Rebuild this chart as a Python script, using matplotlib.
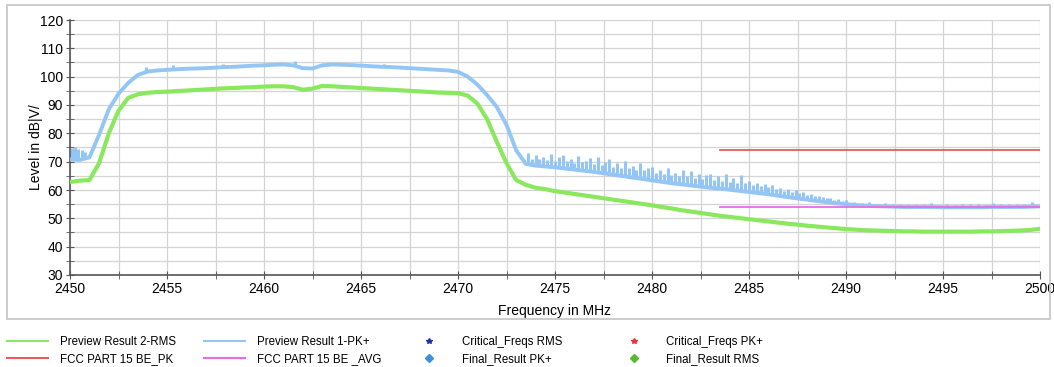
import numpy as np
import matplotlib.pyplot as plt
from matplotlib.lines import Line2D
from matplotlib.patches import Rectangle
from matplotlib.ticker import MultipleLocator

plt.rcParams['font.family'] = ['Liberation Sans', 'DejaVu Sans']

# Preview Result 1-PK+ (dBuV), trace level every 0.5 MHz from 2450 to 2500 MHz
pk_level = [
    70.8, 70.6, 71.5, 79.5, 88.5, 94.0, 97.8, 100.6, 101.8, 102.2,    # 2450-2454.5
    102.4, 102.6, 102.8, 102.9, 103.0, 103.2, 103.4, 103.5, 103.7, 103.9,  # 2455-2459.5
    104.0, 104.2, 104.3, 104.0, 103.0, 102.9, 104.0, 104.3, 104.2, 104.1,  # 2460-2464.5
    103.9, 103.7, 103.5, 103.4, 103.2, 103.0, 102.8, 102.6, 102.4, 102.2,  # 2465-2469.5
    101.7, 100.0, 97.2, 93.5, 89.3, 83.0, 74.0, 69.2, 68.6, 68.3,     # 2470-2474.5
    68.0, 67.6, 67.2, 66.8, 66.4, 65.9, 65.4, 64.9, 64.4, 63.9,       # 2475-2479.5
    63.4, 62.9, 62.4, 62.0, 61.6, 61.2, 60.8, 60.5, 60.1, 59.7,       # 2480-2484.5
    59.3, 58.9, 58.5, 58.0, 57.5, 57.0, 56.6, 56.1, 55.7, 55.3,       # 2485-2489.5
    55.0, 54.7, 54.5, 54.3, 54.2, 54.1, 54.0, 54.0, 54.0, 54.0,       # 2490-2494.5
    53.9, 53.9, 53.9, 53.9, 53.9, 54.0, 54.0, 54.0, 54.0, 54.1,       # 2495-2499.5
    54.2,                                                             # 2500
]

# isolated peaks on the PK+ trace below 2473 MHz
spike_freq = [2450.1, 2450.25, 2450.4, 2450.6, 2450.75, 2453.9, 2455.3,
              2457.9, 2461.6, 2466.2]
spike_top = [74.8, 75.0, 74.5, 74.2, 73.5, 103.4, 104.0,
             104.4, 105.4, 104.6]

# peak noise above the PK+ trace, 2473.6-2490.0 MHz every 0.2 MHz
noise_top = [
    73.0, 71.0,                          # 2473.6
    72.5, 70.8, 71.8, 70.5, 72.8,        # 2474
    70.4, 71.5, 72.2, 70.1, 71.0,        # 2475
    69.6, 72.0, 69.8, 70.4, 71.2,        # 2476
    69.0, 71.5, 68.7, 69.8, 70.9,        # 2477
    68.0, 69.5, 67.9, 70.2, 67.6,        # 2478
    68.6, 66.9, 69.4, 67.0, 67.9,        # 2479
    68.2, 66.0, 67.0, 65.8, 67.8,        # 2480
    65.4, 66.1, 64.9, 67.0, 65.0,        # 2481
    66.8, 64.2, 65.6, 63.9, 65.2,        # 2482
    65.8, 63.4, 64.9, 63.3, 65.6,        # 2483
    62.8, 64.4, 62.5, 65.3, 62.6,        # 2484
    63.0, 61.8, 62.5, 61.5, 62.2,        # 2485
    60.9, 61.8, 60.4, 60.6, 59.8,        # 2486
    60.2, 59.4, 59.9, 58.9, 59.3,        # 2487
    58.2, 58.7, 57.8, 58.0, 57.4,        # 2488
    57.2, 57.0, 56.6, 56.9, 56.2,        # 2489
    56.3,                                # 2490
]

# peak noise above the PK+ trace, 2490.4-2499.6 MHz every 0.4 MHz
tail_top = [
    55.8, 55.4, 55.6, 55.1, 55.3, 55.0, 55.2, 54.9, 55.1, 54.9, 55.3, 54.8,
    55.0, 54.8, 55.1, 54.9, 55.0, 54.8, 55.3, 54.9, 55.0, 54.9, 55.1, 55.6,
]

# Preview Result 2-RMS (dBuV), every 0.5 MHz
rms_level = [
    62.8, 63.3, 63.5, 69.5, 80.0, 88.0, 92.5, 93.8, 94.3, 94.6,   # 2450-2454.5
    94.7, 94.9, 95.1, 95.3, 95.5, 95.7, 95.9, 96.0, 96.2, 96.3,   # 2455-2459.5
    96.5, 96.6, 96.6, 96.3, 95.4, 95.8, 96.7, 96.6, 96.4, 96.2,   # 2460-2464.5
    96.0, 95.8, 95.6, 95.4, 95.2, 95.0, 94.8, 94.6, 94.4, 94.3,   # 2465-2469.5
    94.2, 93.3, 90.5, 85.0, 77.0, 69.5, 63.5, 61.8, 60.8, 60.3,   # 2470-2474.5
    59.6, 59.1, 58.6, 58.1, 57.6, 57.1, 56.6, 56.1, 55.6, 55.1,   # 2475-2479.5
    54.6, 54.0, 53.5, 52.9, 52.4, 51.9, 51.4, 50.9, 50.5, 50.1,   # 2480-2484.5
    49.7, 49.3, 48.9, 48.5, 48.1, 47.8, 47.4, 47.1, 46.8, 46.5,   # 2485-2489.5
    46.2, 46.0, 45.8, 45.7, 45.6, 45.5, 45.4, 45.4, 45.3, 45.3,   # 2490-2494.5
    45.3, 45.3, 45.3, 45.3, 45.4, 45.4, 45.5, 45.6, 45.7, 45.9,   # 2495-2499.5
    46.3,                                                         # 2500
]

# FCC Part 15 restricted band limits
limit_freq = [2483.5, 2500]
limit_pk = [74, 74]
limit_avg = [54, 54]

start_mhz, stop_mhz, step_mhz = 2450, 2500, 0.5
pk_freq = np.linspace(start_mhz, stop_mhz, len(pk_level))
rms_freq = np.linspace(start_mhz, stop_mhz, len(rms_level))
noise_freq = np.linspace(2473.6, 2490.0, len(noise_top))
tail_freq = np.linspace(2490.4, 2499.6, len(tail_top))

peak_freq = list(spike_freq) + list(noise_freq) + list(tail_freq)
peak_top = spike_top + noise_top + tail_top
# every peak rises from the trace sample nearest to it
peak_base = [pk_level[int(round((f - start_mhz) / step_mhz))] for f in peak_freq]

c_pk = '#94c6f5'
c_rms = '#8ae85e'
c_lim_pk = '#ea5a5a'
c_lim_avg = '#e46ee4'

fig = plt.figure(figsize=(10.54, 3.67), dpi=100)
ax = fig.add_axes([70 / 1054, 92 / 367, 970 / 1054, 255 / 367])

ax.plot(pk_freq, pk_level, color=c_pk, lw=2.8, zorder=3,
        solid_joinstyle='round')
ax.vlines(peak_freq, peak_base, peak_top, color=c_pk, lw=2.2, zorder=3)
ax.plot(rms_freq, rms_level, color=c_rms, lw=3.0, zorder=3)
ax.plot(limit_freq, limit_pk, color=c_lim_pk, lw=1.3, zorder=4)
ax.plot(limit_freq, limit_avg, color=c_lim_avg, lw=1.3, zorder=4)

ax.set_xlim(start_mhz, stop_mhz)
ax.set_ylim(30, 120)
ax.xaxis.set_major_locator(MultipleLocator(5))
ax.xaxis.set_minor_locator(MultipleLocator(2.5))
ax.yaxis.set_major_locator(MultipleLocator(10))
ax.yaxis.set_minor_locator(MultipleLocator(5))
ax.grid(True, which='both', color='#d4d4d4', lw=0.9, zorder=0)
ax.set_axisbelow(True)

for side in ['top', 'right']:
    ax.spines[side].set_visible(False)
for side in ['left', 'bottom']:
    ax.spines[side].set_color('#555555')
    ax.spines[side].set_linewidth(1.2)
ax.tick_params(which='major', direction='inout', length=6, color='#555555',
               labelsize=10, pad=2)
ax.tick_params(which='minor', direction='inout', length=6, color='#555555')

ax.set_xlabel('Frequency in MHz', fontsize=10, labelpad=6)
ax.set_ylabel('Level in dB|V/', fontsize=10, labelpad=-2)

# grey frame round the graph area
fig.patches.append(Rectangle((7 / 1054, 48 / 367), 1043 / 1054, 314 / 367,
                             transform=fig.transFigure, fill=False,
                             edgecolor='#c4c4c4', lw=1.2))

handles = [
    Line2D([], [], color=c_rms, lw=1.5),
    Line2D([], [], color=c_lim_pk, lw=1.5),
    Line2D([], [], color=c_pk, lw=1.5),
    Line2D([], [], color=c_lim_avg, lw=1.5),
    Line2D([], [], ls='none', marker='*', ms=4, color='#2233aa'),
    Line2D([], [], ls='none', marker='D', ms=4, color='#3f8fdf'),
    Line2D([], [], ls='none', marker='*', ms=4, color='#ee3333'),
    Line2D([], [], ls='none', marker='D', ms=4, color='#55bb33'),
]
labels = ['Preview Result 2-RMS', 'FCC PART 15 BE_PK',
          'Preview Result 1-PK+', 'FCC PART 15 BE _AVG',
          'Critical_Freqs RMS', 'Final_Result PK+',
          'Critical_Freqs PK+', 'Final_Result RMS']
legend_kw = dict(loc='upper left', frameon=False, fontsize=8.3,
                 handlelength=3.5, handletextpad=1.1, columnspacing=2.4,
                 labelspacing=0.4, borderaxespad=0, borderpad=0.3)
fig.legend(handles[:6], labels[:6], ncol=3,
           bbox_to_anchor=(4 / 1054, 34 / 367), **legend_kw)
fig.legend(handles[6:], labels[6:], ncol=1,
           bbox_to_anchor=(610 / 1054, 34 / 367), **legend_kw)

fig.savefig('out.png', dpi=100)
